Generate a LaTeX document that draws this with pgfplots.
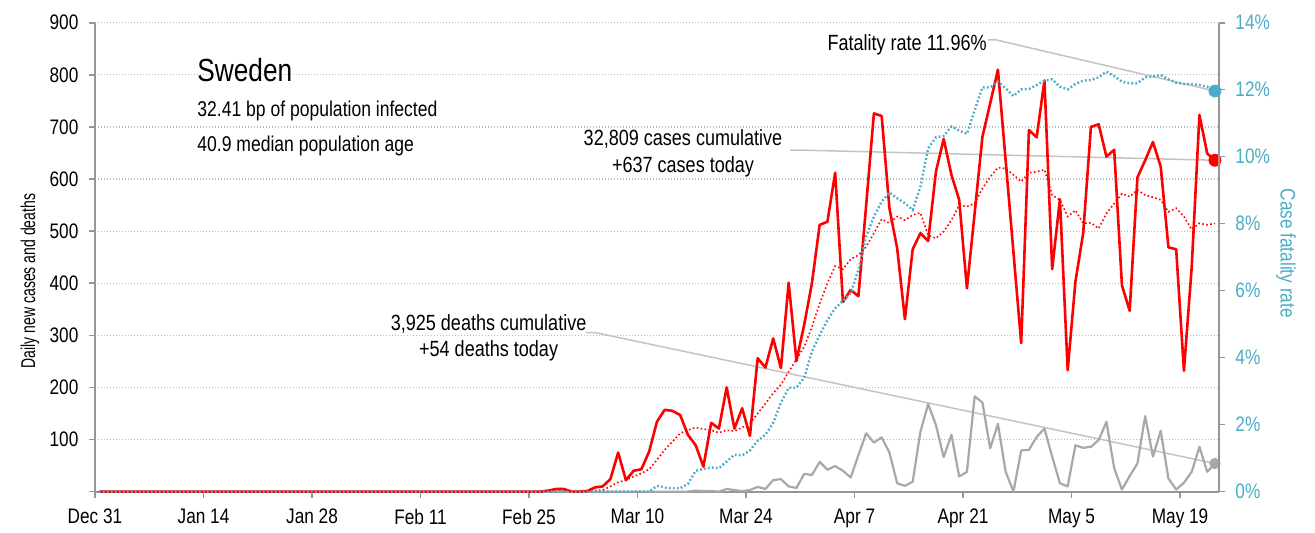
\documentclass[border=0pt]{standalone}
\usepackage{fontspec}
\setmainfont{Liberation Sans}[FakeStretch=0.82]
\newfontfamily\narrowfont{Liberation Sans}[FakeStretch=0.7]
\usepackage{pgfplots}
\pgfplotsset{compat=1.18}
\usepackage{pgfplotstable}
\definecolor{cfr}{RGB}{75,172,198}
\definecolor{deathgray}{RGB}{168,168,168}
\definecolor{conn}{RGB}{195,195,195}
\definecolor{axgray}{RGB}{150,150,150}
\definecolor{casered}{RGB}{255,0,0}

\pgfplotstableread{
day cases avg deaths cfr
0 0 0 0 0
56 0 0 0 0
57 0 0 0 0
58 2 1 0 0
59 5 1 0 0
60 5 2 0 0
61 0 2 0 0
62 0 2 0 0
63 1 2 0 0
64 8 2 0 0
65 10 3 0 0
66 24 10 0 0
67 75 18 0 0
68 22 22 0 0
69 40 29 0 0
70 43 35 0 0
71 77 43 0 0
72 134 61 0 0.17
73 157 80 0 0.12
74 155 96 0 0.10
75 147 112 0 0.10
76 109 118 0 0.23
77 89 123 2 0.62
78 48 120 1 0.68
79 132 118 1 0.72
80 121 113 0 0.70
81 200 118 5 0.90
82 121 116 3 1.10
83 160 123 1 1.08
84 107 131 3 1.23
85 256 150 9 1.52
86 238 169 5 1.70
87 294 189 22 2.05
88 237 205 24 2.65
89 401 230 10 3.10
90 251 254 7 3.10
91 320 278 34 3.40
92 400 316 32 4.18
93 512 361 57 4.68
94 518 400 42 5.12
95 612 433 49 5.47
96 364 427 40 5.70
97 387 446 27 5.92
98 375 454 70 6.62
99 550 470 112 7.61
100 726 496 94 8.21
101 721 523 104 8.66
102 544 515 75 8.93
103 467 528 16 8.76
104 331 521 11 8.61
105 465 531 19 8.41
106 496 535 115 9.10
107 481 492 168 10.25
108 614 486 128 10.58
109 677 499 66 10.62
110 608 521 109 10.90
111 560 550 29 10.78
112 390 547 38 10.68
113 535 553 183 11.39
114 681 582 171 12.07
115 745 604 83 12.07
116 810 622 130 12.24
117 635 620 38 12.04
118 460 608 0 11.81
119 285 595 79 12.01
120 694 612 80 12.02
121 680 614 105 12.14
122 789 618 121 12.27
123 427 569 67 12.31
124 561 560 16 12.09
125 233 528 10 12.01
126 403 540 89 12.17
127 496 515 84 12.27
128 700 516 86 12.29
129 705 505 99 12.37
130 643 534 134 12.54
131 656 553 45 12.41
132 396 572 4 12.24
133 347 566 30 12.19
134 603 579 54 12.19
135 636 569 145 12.37
136 671 565 67 12.39
137 624 560 117 12.44
138 469 537 25 12.31
139 465 544 4 12.21
140 232 528 17 12.17
141 430 503 38 12.17
142 723 515 86 12.14
143 649 512 38 12.09
144 636 515 54 11.96
}\datatable

\begin{document}
\begin{tikzpicture}
\begin{axis}[
  name=main,
  at={(0pt,0pt)}, anchor=south west,
  scale only axis, width=561.9pt, height=234.45pt,
  xmin=-0.5, xmax=144.5, ymin=0, ymax=900,
  clip=false,
  axis x line*=bottom, axis y line*=left,
  axis line style={draw=axgray, line width=0.9pt},
  xtick={-0.5,13.5,27.5,41.5,55.5,69.5,83.5,97.5,111.5,125.5,139.5},
  xticklabels={Dec 31,Jan 14,Jan 28,Feb 11,Feb 25,Mar 10,Mar 24,Apr 7,Apr 21,May 5,May 19},
  ytick={100,200,...,900},
  extra y ticks={0}, extra y tick labels={}, extra y tick style={grid=none},
  ymajorgrids,
  major grid style={draw=gray!55, line width=0.6pt, dash pattern=on 0.5pt off 1pt},
  tick align=outside, major tick length=3pt,
  tick style={draw=axgray, line width=0.8pt},
  /pgf/number format/assume math mode=true,
  tick label style={font=\fontsize{10.5}{12}\selectfont},
  xticklabel style={yshift=-2.2pt},
  yticklabel style={xshift=-1.8pt},
]
\draw[conn, line width=0.75pt] (axis cs:62.85,305) -- (axis cs:64.1,305) -- (axis cs:144,54);
\draw[conn, line width=0.75pt] (axis cs:89.2,655.5) -- (axis cs:90.5,655.5) -- (axis cs:144,636);
\addplot[deathgray, line width=1.1pt, line join=round] table[x=day,y=deaths] {\datatable};
\addplot[casered, line width=0.8pt, dash pattern=on 0.8pt off 1.2pt] table[x=day,y=avg] {\datatable};
\addplot[casered, line width=1.3pt, line join=round] table[x=day,y=cases] {\datatable};
\addplot[only marks, mark=*, mark size=2.6pt, deathgray] coordinates {(144,54)};
\addplot[only marks, mark=*, mark size=3pt, casered] coordinates {(144,636)};
\end{axis}
\begin{axis}[
  at={(0pt,0pt)}, anchor=south west,
  scale only axis, width=561.9pt, height=234.45pt,
  xmin=-0.5, xmax=144.5, ymin=0, ymax=14,
  clip=false,
  axis x line=none, axis y line*=right,
  axis line style={draw=axgray, line width=0.9pt},
  ytick={0,2,...,14},
  yticklabel={\pgfmathprintnumber{\tick}\%},
  tick align=outside, major tick length=3pt,
  tick style={draw=axgray, line width=0.8pt},
  /pgf/number format/assume math mode=true,
  tick label style={font=\fontsize{10.5}{12}\selectfont},
  yticklabel style={text=cfr, xshift=1.8pt},
]
\draw[conn, line width=0.75pt] (axis cs:114.7,13.49) -- (axis cs:115.7,13.49) -- (axis cs:144,11.96);
\addplot[cfr, line width=1.2pt, dash pattern=on 0.9pt off 1.1pt] table[x=day,y=cfr] {\datatable};
\addplot[only marks, mark=*, mark size=3pt, cfr] coordinates {(144,11.96)};
\end{axis}

\node[rotate=90, font=\narrowfont\fontsize{10}{12}\selectfont] at (-32.5pt,105.3pt) {Daily new cases and deaths};
\node[rotate=-90, text=cfr, font=\fontsize{10.5}{12}\selectfont] at (595.5pt,119.2pt) {Case fatality rate};

\node[anchor=base west, inner sep=0pt, font=\fontsize{16}{19}\selectfont] at (51pt,205.3pt) {Sweden};
\node[anchor=base west, inner sep=0pt, font=\fontsize{10.7}{13}\selectfont] at (51pt,187.8pt) {32.41 bp of population infected};
\node[anchor=base west, inner sep=0pt, font=\fontsize{10.7}{13}\selectfont] at (51pt,170pt) {40.9 median population age};

\node[anchor=base east, inner sep=0pt, font=\fontsize{11}{13}\selectfont] at (446pt,220.8pt) {Fatality rate 11.96\%};
\node[anchor=base, inner sep=0pt, font=\fontsize{11}{13}\selectfont] at (294pt,173.3pt) {32,809 cases cumulative};
\node[anchor=base, inner sep=0pt, font=\fontsize{11}{13}\selectfont] at (294pt,159.8pt) {+637 cases today};
\node[anchor=base, inner sep=0pt, font=\fontsize{11}{13}\selectfont] at (196.8pt,80.8pt) {3,925 deaths cumulative};
\node[anchor=base, inner sep=0pt, font=\fontsize{11}{13}\selectfont] at (196.8pt,67.8pt) {+54 deaths today};

\pgfresetboundingbox
\path[use as bounding box] (-47.5pt,-20.2pt) rectangle (610pt,245.8pt);
\end{tikzpicture}
\end{document}
